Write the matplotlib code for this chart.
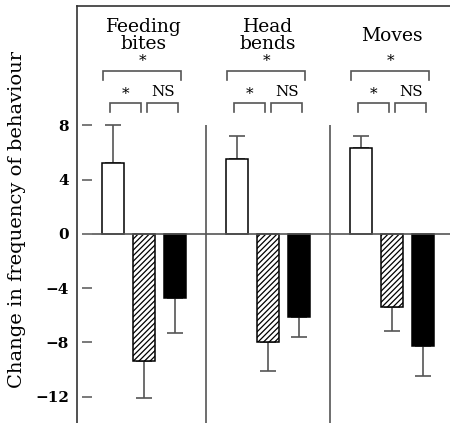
import matplotlib
matplotlib.use("Agg")
import matplotlib.pyplot as plt
import numpy as np

# data
behaviours = ["Feeding\nbites", "Head\nbends", "Moves"]
white_means = [5.2, 5.5, 6.3]
white_errs = [2.8, 1.7, 0.95]
hatched_means = [-9.4, -8.0, -5.4]
hatched_errs = [2.7, 2.1, 1.8]
black_means = [-4.7, -6.1, -8.3]
black_errs = [2.6, 1.5, 2.2]

# significance brackets: (first bar, last bar, label), bar index 0..2 in each group
wide_brackets = [(0, 2, "*"), (0, 2, "*"), (0, 2, "*")]
left_brackets = [(0, 1, "*"), (0, 1, "*"), (0, 1, "*")]
right_brackets = [(1, 2, "NS"), (1, 2, "NS"), (1, 2, "NS")]

yticks = [-12, -8, -4, 0, 4, 8]
yticklabels = ["\u221212", "\u22128", "\u22124", "0", "4", "8"]

plt.rcParams["font.family"] = ["DejaVu Serif"]
plt.rcParams["hatch.linewidth"] = 0.9

GREY = "#555555"

fig = plt.figure(figsize=(4.5, 4.23), dpi=100)
ax = fig.add_axes([77 / 450, 0.0, 1 - 77 / 450, 1 - 6 / 423])

group_x = np.arange(len(behaviours)) * 4
width = 0.7

ax.bar(group_x, white_means, width, color="white", edgecolor="black", linewidth=1.1, zorder=3)
ax.bar(group_x + 1, hatched_means, width, color="white", edgecolor="black",
       hatch="//////", linewidth=1.1, zorder=3)
ax.bar(group_x + 2, black_means, width, color="black", edgecolor="black", linewidth=1.1, zorder=3)

for offset, means, errs in [(0, white_means, white_errs),
                            (1, hatched_means, hatched_errs),
                            (2, black_means, black_errs)]:
    means = np.array(means)
    errs = np.array(errs)
    lower = np.where(means < 0, errs, 0)
    upper = np.where(means > 0, errs, 0)
    ax.errorbar(group_x + offset, means, yerr=[lower, upper], fmt="none",
                ecolor=GREY, elinewidth=1.2, capsize=6, capthick=1.2, zorder=2)

ax.set_xlim(-1.15, 10.88)
ax.set_ylim(-13.95, 16.8)

# zero line and group separators
ax.hlines(0, -0.67, 10.88, color=GREY, linewidth=1.2, zorder=4)
ax.vlines(group_x[1:] - 1, -13.95, 8, color=GREY, linewidth=1.2, zorder=1)


def bracket(x0, x1, y, drop, label, label_y):
    ax.plot([x0, x0, x1, x1], [y - drop, y, y, y - drop], color=GREY,
            linewidth=1.2, solid_joinstyle="miter", clip_on=False)
    ax.text((x0 + x1) / 2, label_y, label, ha="center", va="center", fontsize=11)


for g, gx in enumerate(group_x):
    a, b, lab = wide_brackets[g]
    bracket(gx + a - 0.3, gx + b + 0.2, 12.0, 0.65, lab, 12.75)
    a, b, lab = left_brackets[g]
    bracket(gx + a - 0.1, gx + b - 0.08, 9.65, 0.7, lab, 10.3)
    a, b, lab = right_brackets[g]
    bracket(gx + a + 0.1, gx + b + 0.12, 9.65, 0.7, lab, 10.45)
    ax.text(gx + 1, 14.6, behaviours[g], ha="center", va="center",
            fontsize=13.5, linespacing=0.92)

# frame: left and top lines, ticks drawn slightly inside
for side in ["right", "bottom"]:
    ax.spines[side].set_visible(False)
ax.spines["top"].set_color("#333333")
ax.spines["top"].set_linewidth(1.2)
ax.spines["left"].set_position(("data", -0.67))
ax.spines["left"].set_visible(False)
ax.plot([0, 0], [0, 1], transform=ax.transAxes, color="#333333", linewidth=1.2, clip_on=False)

ax.set_xticks([])
ax.set_yticks(yticks)
ax.set_yticklabels(yticklabels, fontweight="bold", fontsize=11)
ax.tick_params(axis="y", direction="out", length=7.5, width=1.1, color=GREY, pad=9)

fig.text(17 / 450, 1 - 220 / 423, "Change in frequency of behaviour", rotation=90,
         ha="center", va="center", fontsize=14)

fig.savefig("out.png", dpi=100)
